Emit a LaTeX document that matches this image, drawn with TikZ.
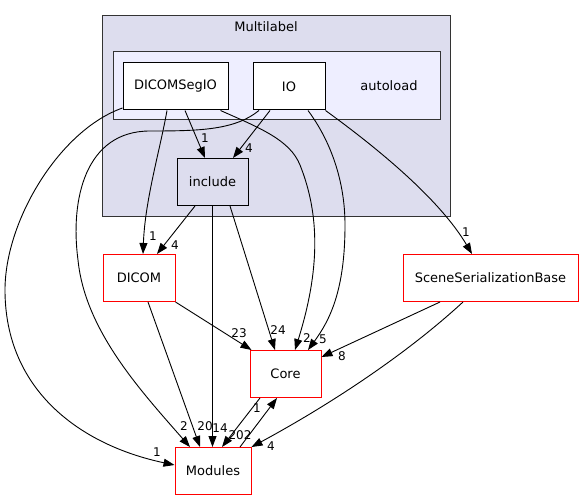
\documentclass[tikz,border=0pt]{standalone}
\usepackage{fontspec}
\setmainfont{DejaVu Sans}
\usetikzlibrary{arrows.meta}

\definecolor{clusterbg}{RGB}{221,221,238}
\definecolor{innerbg}{RGB}{238,238,255}

\begin{document}
\begin{tikzpicture}[x=1pt, y=-1pt,
  >={Triangle[length=11pt,width=8pt]},
  dirbox/.style={draw=black, line width=1pt, minimum width=#1, minimum height=47pt,
    inner sep=0pt, fill=white, font=\fontsize{13}{15}\selectfont},
  extbox/.style={dirbox=#1, draw=red},
  dep/.style={->, line width=0.9pt},
  lbl/.style={inner sep=0pt, font=\fontsize{12}{14}\selectfont},
  cluster/.style={draw=black!80, line width=1pt}]
\useasboundingbox (0,0) rectangle (583,500);
% кластеры
\draw [cluster, fill=clusterbg] (102,16) rectangle (450,216);
\node [lbl, font=\fontsize{13}{15}\selectfont] (multilabel) at (266,27) {Multilabel};
\draw [cluster, fill=innerbg] (113,52) rectangle (440,120);
\node [lbl, font=\fontsize{13}{15}\selectfont] (autoload) at (389,86) {autoload};
% узлы
\node [dirbox=105] (dsio) at (175.5,86.5) {DICOMSegIO};
\node [dirbox=72] (io) at (289,86.5) {IO};
\node [dirbox=71, fill=clusterbg] (include) at (212.5,182) {include};
\node [extbox=72] (dicom) at (139,278) {DICOM};
\node [extbox=71] (core) at (285.5,374) {Core};
\node [extbox=175] (ssb) at (490.5,278) {SceneSerializationBase};
\node [extbox=76] (modules) at (213,471) {Modules};
% связи
\draw [dep] ([xshift=9.5]dsio.south) -- ([xshift=-7.5]include.north);
\draw [dep] ([xshift=-19]io.south) -- ([xshift=20.5]include.north);
\draw [dep] ([xshift=-8.5]dsio.south) .. controls (160,150) and (145,200) .. ([xshift=4]dicom.north);
\draw [dep] ([xshift=-17.5]include.south) -- ([xshift=18]dicom.north);
\draw [dep] ([yshift=-21.5]dsio.west) .. controls (60,130) and (5,220) .. (5,290)
  .. controls (5,390) and (80,445) .. ([yshift=6]modules.west);
\draw [dep] ([xshift=-30]io.south) .. controls (235,130) and (200,131) .. (150,131)
  .. controls (85,131) and (70,200) .. (78,260)
  .. controls (85,330) and (140,390) .. ([xshift=-23]modules.north);
\draw [dep] (include.south) -- (include.south |- modules.north);
\draw [dep] ([xshift=9]dicom.south) -- ([xshift=-13]modules.north);
\draw [dep] (dicom.south east) -- ([xshift=2]core.north west);
\draw [dep] ([xshift=17.5]include.south) -- ([xshift=-10.5]core.north);
\draw [dep] ([xshift=-8]dsio.south east) .. controls (260,128) and (290,140) .. (300,165)
  .. controls (320,215) and (320,270) .. ([xshift=9.5]core.north);
\draw [dep] ([xshift=19]io.south) .. controls (330,140) and (345,180) .. (345,225)
  .. controls (345,290) and (330,320) .. ([xshift=22.5]core.north);
\draw [dep] (io.south east) .. controls (380,150) and (440,200) .. ([xshift=-18.5]ssb.north);
\draw [dep] ([xshift=-50.5]ssb.south) -- ([yshift=-7]core.north east);
\draw [dep] ([xshift=-27.5]ssb.south) .. controls (400,360) and (320,410) .. (modules.north east);
\draw [dep] ([xshift=-25.5]core.south) -- ([xshift=9]modules.north);
\draw [dep] ([xshift=27]modules.north) -- ([xshift=-8.5]core.south);
% подписи
\node [lbl] (l1) at (205,138) {1};
\node [lbl] (l2) at (249,148) {4};
\node [lbl] (l3) at (153,236) {1};
\node [lbl] (l4) at (175,245) {4};
\node [lbl] (l5) at (157,452) {1};
\node [lbl] (l6) at (184,426) {2};
\node [lbl] (l7) at (220,428) {14};
\node [lbl] (l8) at (205,426) {20};
\node [lbl] (l9) at (239,333) {23};
\node [lbl] (l10) at (278,330) {24};
\node [lbl] (l11) at (307,338) {2};
\node [lbl] (l12) at (323,339) {5};
\node [lbl] (l13) at (466,232) {1};
\node [lbl] (l14) at (342,356) {8};
\node [lbl] (l15) at (271,446) {4};
\node [lbl] (l16) at (240,435) {202};
\node [lbl] (l17) at (257,408) {1};
\end{tikzpicture}
\end{document}
